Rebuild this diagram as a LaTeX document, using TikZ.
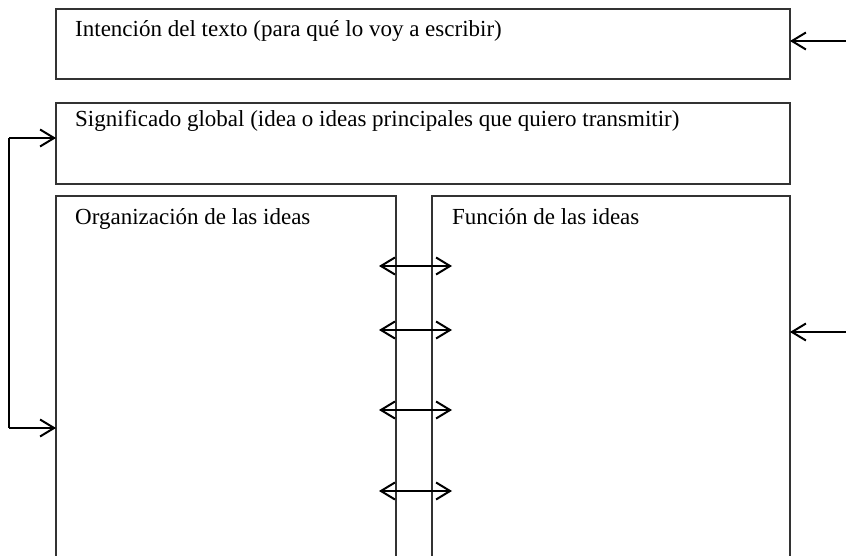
\documentclass[tikz,border=0pt]{standalone}
\usepackage{fontspec}
\setmainfont{Liberation Serif}
\usetikzlibrary{arrows.meta}
\begin{document}
\begin{tikzpicture}[x=1pt,y=-1pt,
  boxline/.style={draw=black!80,line width=2pt},
  lbl/.style={anchor=base west,inner sep=0pt,font=\fontsize{23}{27}\selectfont},
  tip/.style={Straight Barb[length=14pt,width=17pt,line width=2pt]},
  arr/.style={line width=2pt,-{Straight Barb[length=14pt,width=17pt,line width=2pt]}},
  darr/.style={line width=2pt,{Straight Barb[length=14pt,width=17pt,line width=2pt]}-{Straight Barb[length=14pt,width=17pt,line width=2pt]}}]
\useasboundingbox (0,0) rectangle (846,556);
\begin{scope}
\clip (0,0) rectangle (846,556);
\path[boxline] (56,9) rectangle (790,79);
\path[boxline] (56,103) rectangle (790,184);
\path[boxline] (56,196) rectangle (396,600);
\path[boxline] (432,196) rectangle (790,600);
\end{scope}
\coordinate (b1) at (790,41);
\coordinate (e1) at (846,41);
\coordinate (b4) at (790,332);
\coordinate (e4) at (846,332);
\coordinate (t2) at (56,138);
\coordinate (t3) at (56,428);
\coordinate (c2) at (9,138);
\coordinate (c3) at (9,428);
\node[lbl] (n1) at (75,37) {Intención del texto (para qué lo voy a escribir)};
\node[lbl] (n2) at (75,127) {Significado global (idea o ideas principales que quiero transmitir)};
\node[lbl] (n3) at (75,225) {Organización de las ideas};
\node[lbl] (n4) at (452,225) {Función de las ideas};
\draw[arr] (e1) -- (b1);
\draw[arr] (e4) -- (b4);
\draw[line width=2pt] (c2) -- (c3);
\draw[arr] (c2) -- (t2);
\draw[arr] (c3) -- (t3);
\foreach \y/\n in {266/a,330/b,410/c,491/d}{
  \coordinate (l\n) at (379,\y);
  \coordinate (r\n) at (452,\y);
  \draw[darr] (l\n) -- (r\n);
}
\end{tikzpicture}
\end{document}
